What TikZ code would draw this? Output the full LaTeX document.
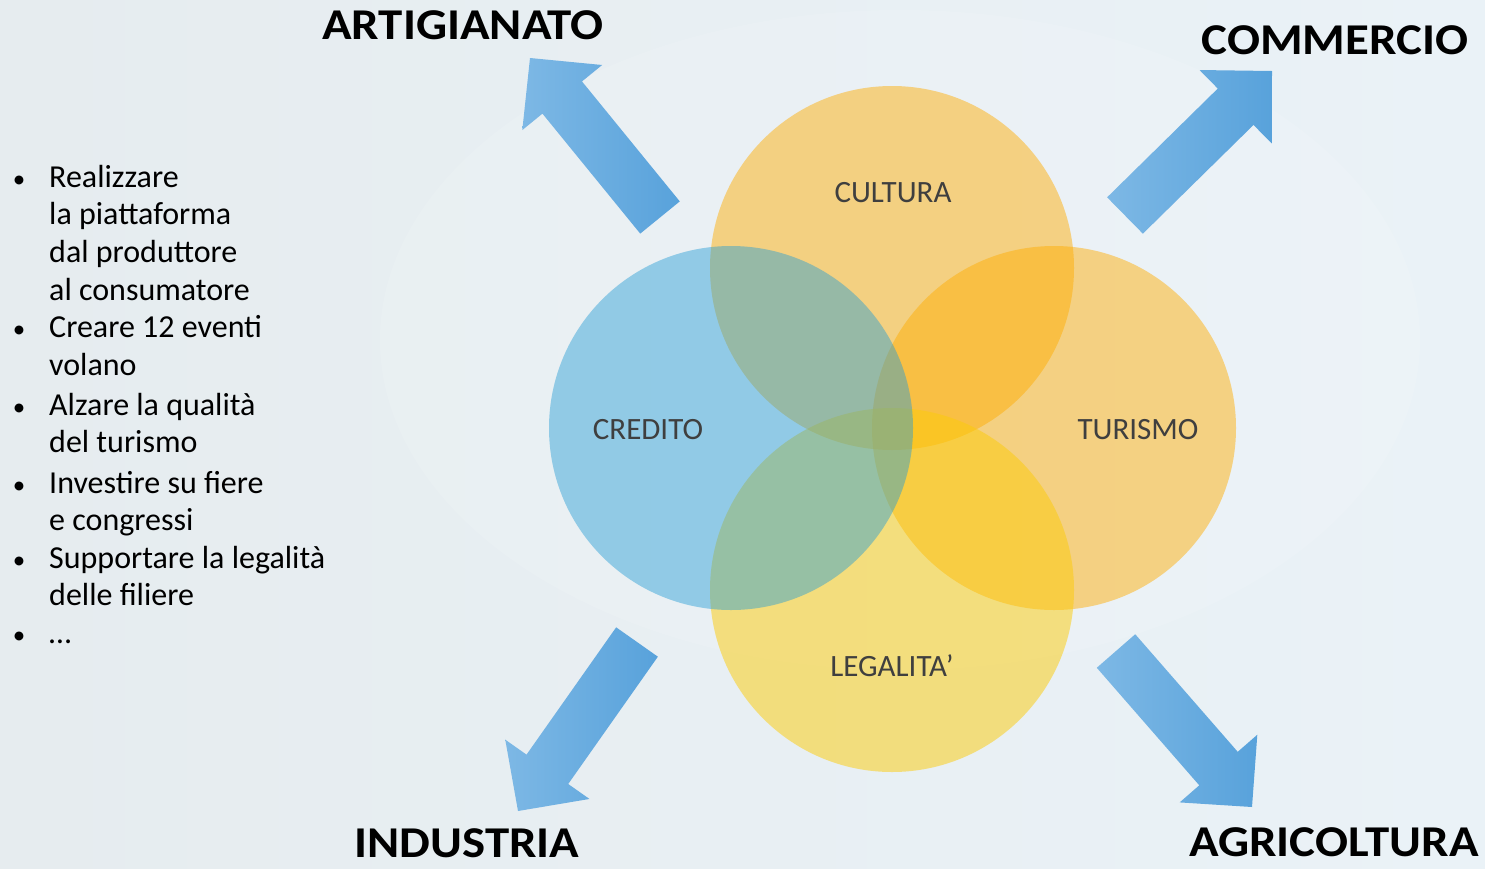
\documentclass[tikz,border=0pt]{standalone}
\usepackage{fontspec}
\setmainfont{Carlito}
\usetikzlibrary{calc}
\definecolor{bgL}{HTML}{E6ECEF}
\definecolor{bgR}{HTML}{EAF2F7}
\definecolor{orangeC}{RGB}{255,172,0}
\definecolor{blueC}{RGB}{38,157,213}
\definecolor{yellowC}{RGB}{252,204,7}
\definecolor{labelC}{HTML}{3F3F3F}
\definecolor{arrowA}{HTML}{7DB8E5}
\definecolor{arrowB}{HTML}{58A2DB}
\tikzset{
  orangeset/.style={fill=orangeC, fill opacity=0.47},
  blueset/.style={fill=blueC, fill opacity=0.45},
  yellowset/.style={fill=yellowC, fill opacity=0.5},
  setlabel/.style={text=labelC, font=\fontsize{31}{36}\selectfont, inner sep=0pt},
  biglabel/.style={text=black, font=\fontsize{44}{50}\selectfont\bfseries, inner sep=0pt, anchor=base},
  arrowshade/.style={left color=arrowA, right color=arrowB},
  itemtext/.style={font=\fontsize{32}{37.7}\selectfont, anchor=base west, inner sep=0pt, text=black},
  bullettext/.style={font=\fontsize{25}{30}\selectfont, anchor=base, inner sep=0pt, text=black}
}
\newcommand\wide[1]{\scalebox{1.11}[1]{#1}}
\newcommand\itemlines[1]{\begin{tabular}[t]{@{}l@{}}#1\end{tabular}}
\newcommand\blockarrow[3]{%
  \coordinate (#1) at #2;
  \coordinate (#1tip) at #3;
  \coordinate (#1neck) at ($(#1tip)!51pt!(#1)$);
  \shade[arrowshade] ($(#1)!25.5pt!90:(#1tip)$) -- ($(#1neck)!25.5pt!90:(#1tip)$)
    -- ($(#1neck)!51.5pt!90:(#1tip)$) -- (#1tip) -- ($(#1neck)!51.5pt!-90:(#1tip)$)
    -- ($(#1neck)!25.5pt!-90:(#1tip)$) -- ($(#1)!25.5pt!-90:(#1tip)$) -- cycle;}
\begin{document}
\begin{tikzpicture}[x=1pt, y=-1pt]
\useasboundingbox (0,0) rectangle (1485,868);
% background
\shade[left color=bgL, right color=bgR] (0,0) rectangle (1485,868);
\fill[white, opacity=0.12] (900,340) ellipse [x radius=520pt, y radius=330pt];
% circles
\fill[orangeset] (892,268) circle [radius=182pt];
\fill[orangeset] (1054,428) circle [radius=182pt];
\fill[yellowset] (892,590) circle [radius=182pt];
\fill[blueset] (731,428) circle [radius=182pt];
% set labels
\node[setlabel] (cultura) at (893,193) {CULTURA};
\node[setlabel] (credito) at (648,430) {CREDITO};
\node[setlabel] (turismo) at (1138,430) {TURISMO};
\node[setlabel] (legalita) at (892,666) {LEGALITA’};
% arrows
\blockarrow{artA}{(660,217.5)}{(530,58)}
\blockarrow{comA}{(1125,215.5)}{(1272,71)}
\blockarrow{indA}{(637,642)}{(518,811)}
\blockarrow{agrA}{(1116,651)}{(1252,807)}
% big labels
\node[biglabel] (artigianato) at (463,39.5) {\wide{ARTIGIANATO}};
\node[biglabel] (commercio) at (1335,54) {\wide{COMMERCIO}};
\node[biglabel] (industria) at (467,857) {\wide{INDUSTRIA}};
\node[biglabel] (agricoltura) at (1334,856) {\wide{AGRICOLTURA}};
% bullet list
\foreach \y/\n in {187/b1,337.5/b2,415/b3,493/b4,568/b5,643/b6}
  \node[bullettext] (\n) at (19,\y) {•};
\node[itemtext] (i1) at (49,187) {\itemlines{Realizzare\\la piattaforma\\dal produttore\\al consumatore}};
\node[itemtext] (i2) at (49,337.5) {\itemlines{Creare 12 eventi\\volano}};
\node[itemtext] (i3) at (49,415) {\itemlines{Alzare la qualità\\del turismo}};
\node[itemtext] (i4) at (49,493) {\itemlines{Investire su fiere\\e congressi}};
\node[itemtext] (i5) at (49,568) {\itemlines{Supportare la legalità\\delle filiere}};
\node[itemtext] (i6) at (49,643) {…};
\end{tikzpicture}
\end{document}
